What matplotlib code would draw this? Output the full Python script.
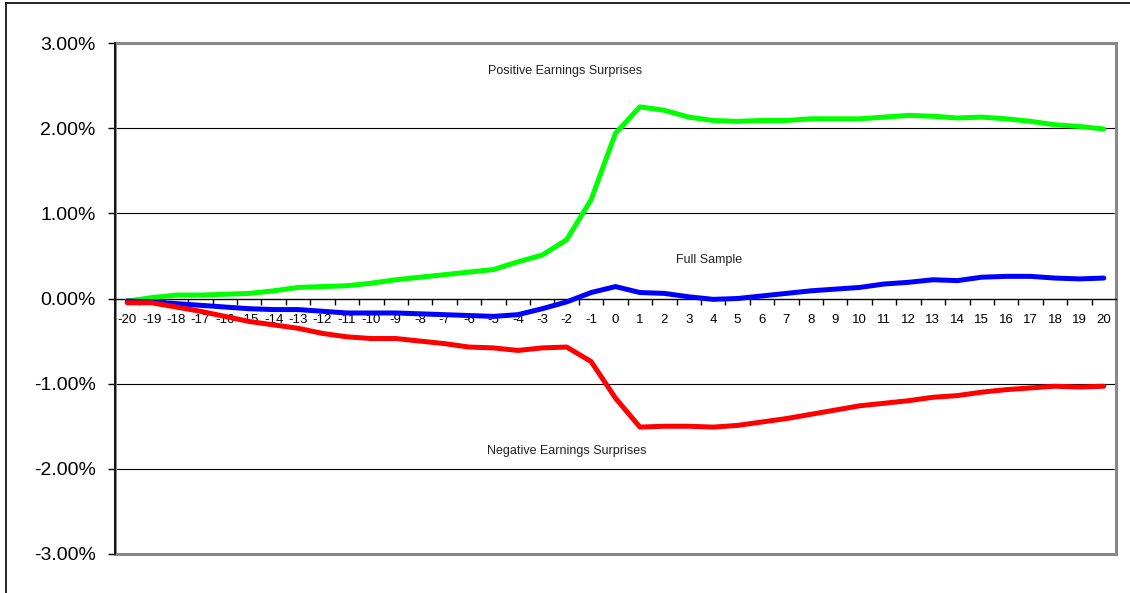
import numpy as np
import matplotlib
matplotlib.use('Agg')
import matplotlib.pyplot as plt
from matplotlib.lines import Line2D
from matplotlib.patches import Rectangle
from matplotlib.ticker import FuncFormatter

# Event days around the earnings announcement
days = list(range(-20, 21))

# Cumulative abnormal returns (%)
positive = [-0.03, 0.01, 0.04, 0.04, 0.05, 0.06, 0.09, 0.13, 0.14, 0.15, 0.18, 0.22, 0.25, 0.28,
            0.31, 0.34, 0.43, 0.51, 0.69, 1.16, 1.94, 2.25, 2.21, 2.13, 2.09, 2.08, 2.09, 2.09,
            2.11, 2.11, 2.11, 2.13, 2.15, 2.14, 2.12, 2.13, 2.11, 2.08, 2.04, 2.02, 1.99]
full_sample = [-0.03, -0.04, -0.06, -0.08, -0.10, -0.12, -0.13, -0.13, -0.15, -0.17, -0.17, -0.17, -0.18, -0.19,
               -0.20, -0.21, -0.19, -0.12, -0.04, 0.07, 0.14, 0.07, 0.06, 0.02, -0.01, 0.00, 0.03, 0.06,
               0.09, 0.11, 0.13, 0.17, 0.19, 0.22, 0.21, 0.25, 0.26, 0.26, 0.24, 0.23, 0.24]
negative = [-0.05, -0.05, -0.10, -0.15, -0.21, -0.27, -0.31, -0.35, -0.41, -0.45, -0.47, -0.47, -0.50, -0.53,
            -0.57, -0.58, -0.61, -0.58, -0.57, -0.74, -1.17, -1.51, -1.50, -1.50, -1.51, -1.49, -1.45, -1.41,
            -1.36, -1.31, -1.26, -1.23, -1.20, -1.16, -1.14, -1.10, -1.07, -1.05, -1.03, -1.04, -1.03]

y_ticks = [-3, -2, -1, 0, 1, 2, 3]

fig = plt.figure(figsize=(11.3, 5.93), dpi=100)
ax = fig.add_axes([115 / 1130, 1 - 554 / 593, 1001 / 1130, 511 / 593])

# gridlines
for v in [-2, -1, 1, 2]:
    ax.axhline(v, color='black', linewidth=0.8, zorder=1)

ax.plot(days, positive, color='#00FF00', linewidth=3.6, solid_capstyle='round', zorder=3)
ax.plot(days, full_sample, color='#0000FF', linewidth=3.6, solid_capstyle='round', zorder=4)
ax.plot(days, negative, color='#FF0000', linewidth=3.6, solid_capstyle='round', zorder=5)

ax.set_xlim(-20.5, 20.5)
ax.set_ylim(-3, 3)

# plot area frame (gray) and y axis (black)
ax.add_patch(Rectangle((0, 0), 1, 1, transform=ax.transAxes, fill=False,
                       edgecolor='#888888', linewidth=2.2, zorder=2, clip_on=False))
ax.spines['top'].set_visible(False)
ax.spines['right'].set_visible(False)
ax.spines['left'].set_color('black')
ax.spines['left'].set_linewidth(1.2)
ax.spines['left'].set_zorder(6)
ax.spines['bottom'].set_position(('data', 0))
ax.spines['bottom'].set_color('black')
ax.spines['bottom'].set_linewidth(1.0)

ax.set_yticks(y_ticks)
ax.yaxis.set_major_formatter(FuncFormatter(lambda v, p: f'{v:.2f}%'))
ax.tick_params(axis='y', direction='out', length=5, width=1, pad=9,
               labelsize=14, colors='black')
for lab in ax.get_yticklabels():
    lab.set_fontfamily('Liberation Sans')

ax.set_xticks(days)
ax.set_xticklabels([str(d) for d in days], fontfamily='Liberation Sans', fontsize=9.5)
ax.set_xticks(np.arange(-19.5, 20.5, 1), minor=True)
ax.tick_params(axis='x', which='major', length=0, pad=11)
ax.tick_params(axis='x', which='minor', direction='out', length=4, width=1)

lbl = dict(fontsize=9, fontfamily='Liberation Sans', ha='center', va='center', color='#222222')
fig.text(565 / 1130, 1 - 71 / 593, 'Positive Earnings Surprises', **lbl)
fig.text(709 / 1130, 1 - 260 / 593, 'Full Sample', **lbl)
fig.text(567 / 1130, 1 - 451 / 593, 'Negative Earnings Surprises', **lbl)

# outer chart border (cropped)
fig.add_artist(Line2D([6 / 1130, 1], [1 - 3 / 593, 1 - 3 / 593], transform=fig.transFigure, color='black', linewidth=1.2))
fig.add_artist(Line2D([6 / 1130, 6 / 1130], [0, 1 - 3 / 593], transform=fig.transFigure, color='black', linewidth=1.2))

fig.savefig('out.png', dpi=100)
